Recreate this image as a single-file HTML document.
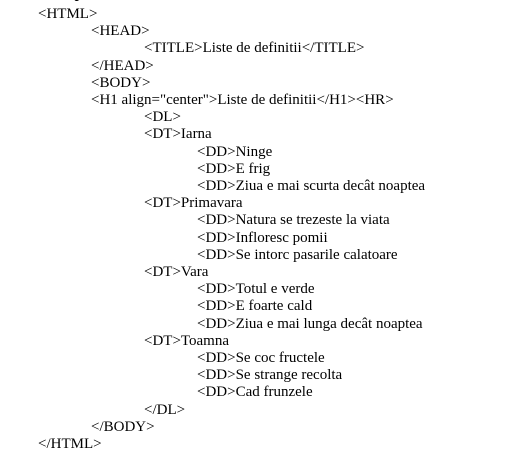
<!DOCTYPE html>
<html><head><meta charset="utf-8"><style>
body{margin:0;width:517px;height:452px;background:#fff;overflow:hidden;position:relative;font-family:"Liberation Serif",serif;font-size:15px;color:#000}
div{position:absolute;white-space:pre;line-height:17px}
</style></head><body>
<div style="left:38px;top:-14px;font-weight:bold">Exemplu:</div>
<div style="left:38px;top:6px">&lt;HTML&gt;</div>
<div style="left:91px;top:23px">&lt;HEAD&gt;</div>
<div style="left:144px;top:40px">&lt;TITLE&gt;Liste de definitii&lt;/TITLE&gt;</div>
<div style="left:91px;top:58px">&lt;/HEAD&gt;</div>
<div style="left:91px;top:75px">&lt;BODY&gt;</div>
<div style="left:91px;top:92px">&lt;H1 align="center"&gt;Liste de definitii&lt;/H1&gt;&lt;HR&gt;</div>
<div style="left:144px;top:109px">&lt;DL&gt;</div>
<div style="left:144px;top:126px">&lt;DT&gt;Iarna</div>
<div style="left:197px;top:144px">&lt;DD&gt;Ninge</div>
<div style="left:197px;top:161px">&lt;DD&gt;E frig</div>
<div style="left:197px;top:178px">&lt;DD&gt;Ziua e mai scurta decât noaptea</div>
<div style="left:144px;top:195px">&lt;DT&gt;Primavara</div>
<div style="left:197px;top:212px">&lt;DD&gt;Natura se trezeste la viata</div>
<div style="left:197px;top:230px">&lt;DD&gt;Infloresc pomii</div>
<div style="left:197px;top:247px">&lt;DD&gt;Se intorc pasarile calatoare</div>
<div style="left:144px;top:264px">&lt;DT&gt;Vara</div>
<div style="left:197px;top:281px">&lt;DD&gt;Totul e verde</div>
<div style="left:197px;top:298px">&lt;DD&gt;E foarte cald</div>
<div style="left:197px;top:316px">&lt;DD&gt;Ziua e mai lunga decât noaptea</div>
<div style="left:144px;top:333px">&lt;DT&gt;Toamna</div>
<div style="left:197px;top:350px">&lt;DD&gt;Se coc fructele</div>
<div style="left:197px;top:367px">&lt;DD&gt;Se strange recolta</div>
<div style="left:197px;top:384px">&lt;DD&gt;Cad frunzele</div>
<div style="left:144px;top:402px">&lt;/DL&gt;</div>
<div style="left:91px;top:419px">&lt;/BODY&gt;</div>
<div style="left:38px;top:436px">&lt;/HTML&gt;</div>
</body></html>
